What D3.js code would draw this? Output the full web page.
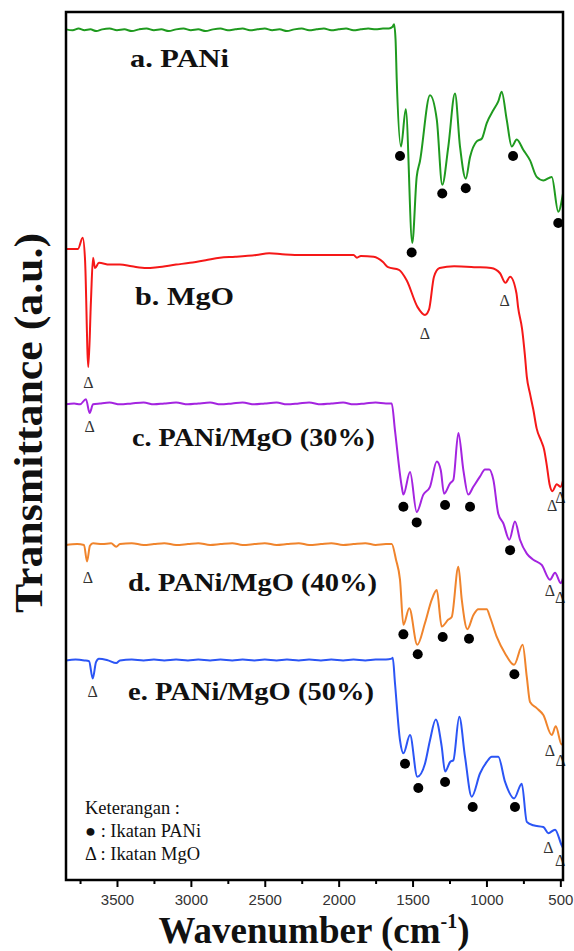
<!DOCTYPE html>
<html>
<head>
<meta charset="utf-8">
<script src="https://cdn.jsdelivr.net/npm/d3@7"></script>
<style>
  body { margin: 0; background: #fff; }
  svg { display: block; }
</style>
</head>
<body>
<div class="container"></div>
<script>
// FTIR spectra, [wavenumber (cm-1), transmittance (a.u.)]
const pani = [
  [3845, 98.0], [3800, 97.9], [3760, 98.1], [3720, 97.9], [3680, 98.0], [3640, 97.8], [3600, 98.0],
  [3550, 98.1], [3500, 97.9], [3450, 98.0], [3400, 97.8], [3350, 98.0], [3300, 98.1], [3250, 97.9],
  [3200, 98.0], [3150, 97.8], [3100, 98.0], [3050, 98.1], [3000, 97.9], [2950, 98.0], [2900, 97.8],
  [2850, 98.0], [2800, 98.1], [2750, 97.9], [2700, 98.0], [2650, 98.1], [2600, 97.9], [2550, 98.0],
  [2500, 98.1], [2450, 97.9], [2400, 98.0], [2350, 97.8], [2300, 98.0], [2250, 98.1], [2200, 97.9],
  [2150, 98.0], [2100, 98.1], [2050, 97.9], [2000, 98.0], [1950, 98.1], [1900, 97.9], [1850, 98.0],
  [1800, 98.1], [1750, 98.0], [1700, 98.1], [1660, 98.1], [1635, 98.3], [1625, 98.6], [1615, 96.8],
  [1607, 92.2], [1578, 84.5], [1546, 88.8], [1502, 73.4], [1472, 81.0], [1450, 82.8], [1382, 90.4],
  [1336, 87.6], [1299, 80.1], [1258, 84.5], [1213, 90.6], [1179, 84.5], [1140, 80.8], [1111, 83.3],
  [1066, 85.1], [1032, 85.4], [998, 87.2], [953, 88.7], [920, 89.7], [897, 90.8], [863, 87.6],
  [829, 84.5], [795, 85.3], [750, 84.1], [705, 82.9], [660, 81.0], [615, 80.6], [558, 81.0],
  [514, 77.0], [482, 79.1]
];
const mgo = [
  [3845, 72.7], [3764, 72.7], [3732, 74.0], [3716, 71.4], [3694, 59.1], [3676, 66.8], [3662, 71.7],
  [3649, 70.5], [3622, 71.1], [3550, 70.9], [3480, 70.9], [3400, 70.7], [3300, 70.5], [3226, 70.6],
  [3100, 70.9], [3006, 71.1], [2900, 71.4], [2804, 71.7], [2700, 71.8], [2557, 72.0], [2470, 72.2],
  [2383, 72.1], [2250, 72.0], [2126, 72.0], [2000, 72.0], [1899, 72.0], [1876, 71.7], [1850, 71.9],
  [1763, 71.8], [1700, 71.2], [1666, 70.6], [1592, 70.3], [1540, 69.1], [1466, 66.0], [1416, 65.1],
  [1389, 65.7], [1355, 69.5], [1317, 70.5], [1219, 70.7], [1071, 70.6], [969, 70.5], [908, 69.9],
  [871, 68.8], [840, 69.5], [797, 67.6], [786, 66.0], [759, 63.5], [740, 60.5], [727, 58.0],
  [705, 56.0], [683, 54.2], [660, 52.0], [630, 50.6], [610, 49.6], [592, 47.8], [573, 45.6],
  [554, 44.8], [524, 45.6], [499, 45.3], [482, 46.0]
];
const pm30 = [
  [3845, 54.8], [3790, 54.9], [3750, 54.8], [3710, 55.4], [3685, 53.8], [3662, 54.8], [3615, 54.9],
  [3550, 55.0], [3480, 54.8], [3400, 54.9], [3320, 55.0], [3250, 54.8], [3180, 54.9], [3100, 55.0],
  [3020, 54.8], [2950, 54.9], [2870, 55.0], [2800, 54.8], [2720, 54.9], [2650, 55.0], [2570, 54.8],
  [2500, 54.9], [2420, 55.0], [2350, 54.8], [2270, 54.9], [2200, 55.0], [2120, 54.8], [2050, 54.9],
  [1970, 55.0], [1900, 54.8], [1820, 54.9], [1750, 55.0], [1680, 54.9], [1641, 54.9], [1619, 51.8],
  [1573, 45.3], [1562, 44.4], [1517, 47.0], [1472, 42.4], [1427, 44.4], [1382, 45.3], [1336, 48.2],
  [1309, 47.2], [1287, 44.5], [1246, 45.7], [1224, 46.1], [1190, 51.5], [1156, 47.2], [1123, 44.4],
  [1089, 45.3], [1043, 46.5], [1010, 47.3], [981, 47.3], [953, 46.1], [920, 42.2], [886, 41.1],
  [845, 39.2], [807, 41.3], [773, 39.2], [727, 37.6], [683, 36.9], [626, 36.3], [570, 34.6],
  [536, 35.4], [497, 34.2], [482, 34.8]
];
const pm40 = [
  [3845, 38.6], [3770, 38.7], [3723, 38.6], [3703, 36.7], [3683, 38.5], [3662, 38.8], [3600, 38.7],
  [3540, 38.8], [3505, 38.4], [3480, 38.7], [3400, 38.8], [3320, 38.6], [3250, 38.7], [3180, 38.8],
  [3100, 38.6], [3020, 38.7], [2950, 38.8], [2870, 38.6], [2800, 38.7], [2720, 38.8], [2650, 38.6],
  [2570, 38.7], [2500, 38.8], [2420, 38.6], [2350, 38.7], [2270, 38.8], [2200, 38.6], [2120, 38.7],
  [2050, 38.8], [1970, 38.6], [1900, 38.7], [1820, 38.8], [1750, 38.6], [1680, 38.7], [1641, 38.7],
  [1612, 36.9], [1585, 34.6], [1562, 29.4], [1522, 31.3], [1468, 27.1], [1416, 29.6], [1370, 32.3],
  [1336, 33.4], [1303, 29.2], [1258, 30.0], [1235, 30.3], [1190, 36.1], [1167, 32.3], [1129, 28.9],
  [1089, 30.5], [1055, 31.2], [998, 31.2], [976, 30.3], [930, 28.0], [874, 26.1], [813, 24.8],
  [755, 27.1], [727, 23.4], [705, 20.5], [660, 19.8], [615, 19.0], [558, 16.7], [531, 17.7],
  [491, 15.6], [482, 15.8]
];
const pm50 = [
  [3845, 25.3], [3780, 25.4], [3720, 25.3], [3689, 25.2], [3664, 23.2], [3642, 25.1], [3622, 25.5],
  [3560, 25.3], [3505, 25.0], [3480, 25.3], [3400, 25.4], [3320, 25.3], [3250, 25.4], [3180, 25.3],
  [3100, 25.4], [3020, 25.3], [2950, 25.4], [2870, 25.3], [2800, 25.4], [2720, 25.3], [2650, 25.4],
  [2570, 25.3], [2500, 25.4], [2420, 25.3], [2350, 25.4], [2270, 25.3], [2200, 25.4], [2120, 25.3],
  [2050, 25.4], [1970, 25.3], [1900, 25.4], [1820, 25.3], [1750, 25.4], [1680, 25.4], [1641, 25.5],
  [1634, 25.6], [1619, 22.7], [1585, 16.1], [1562, 14.6], [1517, 16.7], [1468, 11.9], [1416, 13.4],
  [1382, 16.1], [1343, 18.5], [1303, 15.4], [1280, 12.5], [1246, 13.6], [1224, 13.8], [1184, 18.8],
  [1145, 14.2], [1100, 9.6], [1043, 12.3], [998, 13.6], [964, 14.2], [920, 14.2], [874, 11.3],
  [813, 9.4], [761, 11.1], [727, 6.7], [683, 6.3], [615, 6.1], [581, 5.4], [536, 5.8],
  [491, 4.0], [482, 3.7]
];

// band markers: filled dot = PANi bond, delta = MgO bond
const dotsA = [[1585, 83.4], [1506, 72.3], [1299, 79.1], [1140, 79.7], [820, 83.4], [514, 75.7]];
const dotsC = [[1562, 43.0], [1472, 41.2], [1280, 43.2], [1111, 43.0], [840, 38.0]];
const dotsD = [[1562, 28.3], [1465, 26.0], [1296, 28.0], [1118, 27.8], [811, 23.7]];
const dotsE = [[1551, 13.4], [1461, 10.6], [1280, 11.3], [1093, 8.4], [807, 8.4]];
const deltasB = [[3694, 57.3], [1416, 63.0], [876, 66.8], [556, 43.1], [499, 44.1]];
const deltasC = [[3685, 52.2], [570, 33.3], [502, 32.6]];
const deltasD = [[3696, 34.9], [570, 14.9], [498, 13.8]];
const deltasE = [[3664, 21.7], [581, 3.8], [502, 2.2]];

const seriesNames = ['a. PANi', 'b. MgO', 'c. PANi/MgO (30%)', 'd. PANi/MgO (40%)', 'e. PANi/MgO (50%)'];
const colors = ['#1f9a1f', '#f51818', '#a424e0', '#f0842c', '#2b55f5'];
const majorTicks = [3500, 3000, 2500, 2000, 1500, 1000, 500];
const minorTicks = [3750, 3250, 2750, 2250, 1750, 1250, 750];
const legendLines = ['Keterangan :', '\u25CF : Ikatan PANi', '\u0394 : Ikatan MgO'];

const width = 574, height = 951;
const margin = { top: 12, right: 11, bottom: 70, left: 66 };
const serif = "'Liberation Serif', 'Times New Roman'";

const svg = d3.select('.container').append('svg')
  .attr('width', width)
  .attr('height', height);

const x = d3.scaleLinear().domain([3845, 482]).range([margin.left, width - margin.right]);
const y = d3.scaleLinear().domain([0, 100]).range([height - margin.bottom - 1, margin.top]);

const line = d3.line()
  .x(d => x(d[0]))
  .y(d => y(d[1]))
  .curve(d3.curveMonotoneX);

const spectra = [pani, mgo, pm30, pm40, pm50];
svg.append('g').selectAll('path')
  .data(spectra)
  .join('path')
  .attr('d', line)
  .attr('fill', 'none')
  .attr('stroke', (d, i) => colors[i])
  .attr('stroke-width', 2)
  .attr('stroke-linejoin', 'round');

// dots
const allDots = [].concat(dotsA, dotsC, dotsD, dotsE);
svg.append('g').selectAll('circle')
  .data(allDots)
  .join('circle')
  .attr('cx', d => x(d[0]))
  .attr('cy', d => y(d[1]))
  .attr('r', 5)
  .attr('fill', '#000');

// deltas
const allDeltas = [].concat(deltasB, deltasC, deltasD, deltasE);
svg.append('g').selectAll('text')
  .data(allDeltas)
  .join('text')
  .attr('x', d => x(d[0]))
  .attr('y', d => y(d[1]))
  .attr('text-anchor', 'middle')
  .attr('dominant-baseline', 'central')
  .style('font-family', serif)
  .style('font-size', '16px')
  .style('fill', '#333')
  .text('\u0394');

// series labels
const labelPos = [
  { x: 130, y: 67, w: 99 },
  { x: 135, y: 305, w: 99 },
  { x: 132, y: 446, w: 243 },
  { x: 128, y: 591, w: 249 },
  { x: 128, y: 700, w: 246 }
];
svg.append('g').selectAll('text')
  .data(seriesNames)
  .join('text')
  .attr('x', (d, i) => labelPos[i].x)
  .attr('y', (d, i) => labelPos[i].y)
  .attr('textLength', (d, i) => labelPos[i].w)
  .attr('lengthAdjust', 'spacingAndGlyphs')
  .style('font-family', serif)
  .style('font-weight', 'bold')
  .style('font-size', '25px')
  .style('fill', '#111')
  .text(d => d);

// legend
svg.append('g').selectAll('text')
  .data(legendLines)
  .join('text')
  .attr('x', 85)
  .attr('y', (d, i) => 814 + i * 23)
  .attr('textLength', (d, i) => [95, 116, 115][i])
  .attr('lengthAdjust', 'spacingAndGlyphs')
  .style('font-family', serif)
  .style('font-size', '18px')
  .style('fill', '#111')
  .text(d => d);

// axes
const plotBottom = height - margin.bottom - 1;
const axisMajor = d3.axisBottom(x).tickValues(majorTicks).tickSize(7).tickPadding(7).tickFormat(d3.format('d'));
const gx = svg.append('g').attr('transform', 'translate(0,' + plotBottom + ')').call(axisMajor);
gx.select('.domain').remove();
gx.selectAll('line').attr('stroke', '#000').attr('stroke-width', 2);
gx.selectAll('text')
  .style('font-family', "'Liberation Sans', Arial")
  .style('font-size', '15px')
  .style('fill', '#333');

const axisMinor = d3.axisBottom(x).tickValues(minorTicks).tickSize(4).tickFormat('');
const gm = svg.append('g').attr('transform', 'translate(0,' + plotBottom + ')').call(axisMinor);
gm.select('.domain').remove();
gm.selectAll('line').attr('stroke', '#000').attr('stroke-width', 2);

// frame
svg.append('rect')
  .attr('x', margin.left)
  .attr('y', margin.top)
  .attr('width', width - margin.right - margin.left)
  .attr('height', plotBottom - margin.top)
  .attr('fill', 'none')
  .attr('stroke', '#000')
  .attr('stroke-width', 2.5);

// axis titles
const xt = svg.append('text')
  .attr('x', 314)
  .attr('y', 943)
  .attr('text-anchor', 'middle')
  .style('font-family', serif)
  .style('font-weight', 'bold')
  .style('font-size', '37px')
  .style('fill', '#111');
xt.append('tspan').text('Wavenumber (cm');
xt.append('tspan').attr('dy', -15).style('font-size', '20px').text('-1');
xt.append('tspan').attr('dy', 15).text(')');

svg.append('text')
  .attr('transform', 'translate(42,423) rotate(-90)')
  .attr('text-anchor', 'middle')
  .attr('textLength', 380)
  .attr('lengthAdjust', 'spacingAndGlyphs')
  .style('font-family', serif)
  .style('font-weight', 'bold')
  .style('font-size', '40px')
  .style('fill', '#111')
  .text('Transmittance (a.u.)');
</script>
</body>
</html>
